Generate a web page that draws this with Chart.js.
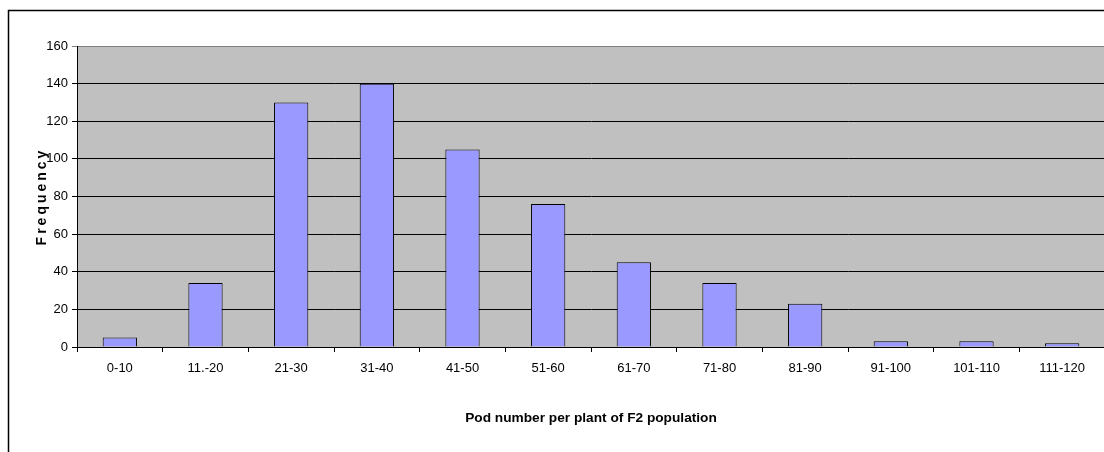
<!DOCTYPE html>
<html>
<head>
<meta charset="utf-8">
<script src="https://cdn.jsdelivr.net/npm/chart.js@4"></script>
<style>
  html, body { margin: 0; padding: 0; background: #fff; overflow: hidden; width: 1104px; height: 452px; }
  canvas { display: block; }
</style>
</head>
<body>
<canvas id="c" width="1112" height="452"></canvas>
<script>
const categories = ['0-10', '11.-20', '21-30', '31-40', '41-50', '51-60', '61-70', '71-80', '81-90', '91-100', '101-110', '111-120'];
const frequency = [5, 34, 130, 140, 105, 76, 45, 34, 23, 3, 3, 2];
const yMin = 0, yMax = 160, yStep = 20;
const xTitle = 'Pod number per plant of F2 population';
const yTitle = 'Frequency';

const sans = "'Liberation Sans', Arial, sans-serif";

const framePlugin = {
  id: 'frame',
  beforeDraw(chart) {
    const ctx = chart.ctx;
    const a = chart.chartArea;
    ctx.save();
    ctx.fillStyle = '#C0C0C0';
    ctx.fillRect(a.left, a.top, a.right - a.left, a.bottom - a.top);
    ctx.strokeStyle = '#808080';
    ctx.lineWidth = 1;
    ctx.beginPath();
    ctx.moveTo(a.left, a.top + 0.5);
    ctx.lineTo(a.right, a.top + 0.5);
    ctx.moveTo(a.right - 0.5, a.top);
    ctx.lineTo(a.right - 0.5, a.bottom);
    ctx.stroke();
    ctx.strokeStyle = '#000';
    ctx.lineWidth = 1.5;
    ctx.beginPath();
    ctx.moveTo(8.5, chart.height);
    ctx.lineTo(8.5, 10.5);
    ctx.lineTo(chart.width, 10.5);
    ctx.stroke();
    ctx.restore();
    const s = chart.scales.y;
    if (s && !s._lsPatched) {
      const orig = s.drawTitle;
      s.drawTitle = function () {
        this.ctx.save();
        this.ctx.letterSpacing = '3px';
        orig.call(this);
        this.ctx.restore();
      };
      s._lsPatched = true;
    }
  }
};

new Chart(document.getElementById('c'), {
  type: 'bar',
  data: {
    labels: categories,
    datasets: [{
      data: frequency,
      backgroundColor: '#9999FF',
      borderColor: '#000000',
      borderWidth: 1,
      barPercentage: 0.4,
      categoryPercentage: 1.0
    }]
  },
  options: {
    responsive: false,
    animation: false,
    layout: { padding: { left: 8, top: 46, right: 7, bottom: 0 } },
    plugins: { legend: { display: false }, tooltip: { enabled: false } },
    scales: {
      x: {
        afterFit(scale) { scale.height = 105; },
        grid: {
          offset: true,
          drawOnChartArea: false,
          drawTicks: true,
          tickLength: 5,
          color: '#000'
        },
        border: { display: true, color: '#000', width: 1 },
        ticks: {
          color: '#000',
          font: { family: sans, size: 13 },
          padding: 9,
          maxRotation: 0,
          autoSkip: false
        },
        title: {
          display: true,
          text: xTitle,
          color: '#000',
          font: { family: sans, size: 13.7, weight: 'bold' },
          padding: { top: 0, bottom: 26 }
        }
      },
      y: {
        min: yMin,
        max: yMax,
        afterFit(scale) { scale.width = 69; },
        grid: {
          drawTicks: true,
          tickLength: 5,
          color: (ctx) => (ctx.tick && ctx.tick.value === yMax ? '#808080' : '#000'),
          lineWidth: 1
        },
        border: { display: true, color: '#000', width: 1 },
        ticks: {
          stepSize: yStep,
          color: '#000',
          font: { family: sans, size: 13 },
          padding: 4
        },
        title: {
          display: true,
          text: yTitle,
          color: '#000',
          font: { family: sans, size: 14, weight: 'bold' },
          padding: { top: 26, bottom: 0 }
        }
      }
    }
  },
  plugins: [framePlugin]
});
</script>
</body>
</html>
